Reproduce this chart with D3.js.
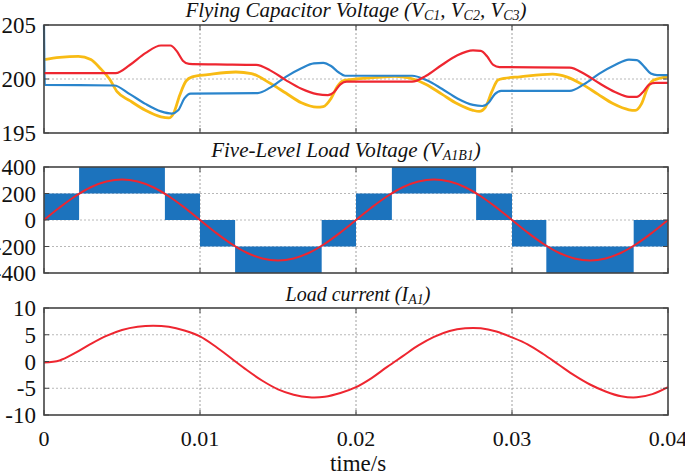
<!DOCTYPE html>
<html><head><meta charset="utf-8">
<script src="https://cdn.jsdelivr.net/npm/d3@7"></script>
<style>
body{margin:0;background:#fff;}
svg{display:block;}
text{font-family:"Liberation Serif","Tinos","Times New Roman","DejaVu Serif",serif;}
</style></head>
<body><svg id="c" width="685" height="473"></svg>
<script>
// ---------- data (time in ms) ----------
const xTicks = [0, 0.01, 0.02, 0.03, 0.04];
const xTickLabels = ["0", "0.01", "0.02", "0.03", "0.04"];

// Flying capacitor voltages
const vc1T = [0,0.05,4.5,5.5,6.5,7.5,8.2,8.6,9.0,9.4,13.7,14.5,15.5,16.5,17.3,17.9,18.4,18.9,19.3,23.6,24.5,25.5,26.5,27.5,28.1,28.5,28.9,29.3,33.7,34.6,35.6,36.6,37.5,38.0,38.5,38.9,39.3,40];
const vc1V = [205,199.45,199.4,198.6,197.7,197.0,196.8,197.1,198.2,198.65,198.7,199.2,200.2,201.0,201.45,201.5,201.2,200.6,200.3,200.3,199.9,199.1,198.2,197.6,197.5,197.8,198.6,198.9,198.9,199.5,200.5,201.3,201.8,201.75,201.1,200.5,200.35,200.35];

const vc2T = [0,4.6,5.5,6.5,7.5,8.1,8.5,8.9,9.3,11,13.6,14.5,15.5,16.5,17.5,18.2,18.6,19.0,19.4,23.6,24.5,25.5,26.5,27.5,28.0,28.4,28.8,29.2,33.7,34.6,35.6,36.6,37.5,38.0,38.4,38.8,39.2,40];
const vc2V = [200.55,200.55,201.3,202.4,203.1,203.1,202.6,201.7,201.4,201.35,201.3,200.8,199.9,199.1,198.6,198.5,198.8,199.5,199.75,199.75,200.3,201.3,202.2,202.65,202.6,202.1,201.3,201.1,201.05,200.5,199.6,198.8,198.35,198.35,198.8,199.5,199.65,199.65];

const vc3T = [0,1,2.2,3.0,3.6,4.2,4.7,5.5,6.5,7.5,8.0,8.3,8.7,9.1,9.5,10.5,12.3,13.3,14.5,15.5,16.5,17.5,17.9,18.4,18.8,19.2,20,21.3,22.5,23.4,24.5,25.5,26.5,27.5,27.9,28.3,28.7,29.1,29.5,30.5,32.6,33.5,34.5,35.5,36.5,37.5,37.9,38.3,38.7,39.1,40];
const vc3V = [201.8,202.0,202.1,201.8,201.0,200.0,198.8,198.0,197.1,196.5,196.4,196.8,198.5,199.8,200.2,200.4,200.65,200.5,199.6,198.7,197.8,197.4,197.45,198.2,199.3,199.85,200.0,200.15,200.25,200.1,199.5,198.6,197.7,197.1,197.0,197.4,198.8,199.9,200.05,200.2,200.45,200.2,199.5,198.6,197.7,197.15,197.1,197.7,199.2,199.9,200.2];

// Five-level load voltage: PWM bands (start ms, end ms, low level, high level)
const pwmStart = [0, 2.25, 7.75, 10, 12.25, 17.8, 20, 22.3, 27.7, 30, 32.2, 37.8];
const pwmEnd   = [2.25, 7.75, 10, 12.25, 17.8, 20, 22.3, 27.7, 30, 32.2, 37.8, 40];
const pwmLow   = [0, 200, 0, -200, -400, -200, 0, 200, 0, -200, -400, -200];
const pwmHigh  = [200, 400, 200, 0, -200, 0, 200, 400, 200, 0, -200, 0];

// Fundamental of load voltage (sampled every 1 ms)
const vFundT = d3.range(0, 41);
const vFundV = [0,94,179,247,290,305,290,247,179,94,0,-94,-179,-247,-290,-305,-290,-247,-179,-94,
                0,94,179,247,290,305,290,247,179,94,0,-94,-179,-247,-290,-305,-290,-247,-179,-94,0];

// Load current (sampled every 1 ms)
const iT = d3.range(0, 41);
const iV = [-0.2,0.2,1.6,3.3,4.8,5.9,6.5,6.7,6.5,5.8,4.7,2.8,0.6,-1.6,-3.6,-5.2,-6.2,-6.7,-6.6,-5.9,
            -4.8,-3.1,-1.0,1.0,3.0,4.6,5.7,6.2,6.2,5.6,4.5,3.2,1.4,-0.6,-2.6,-4.3,-5.6,-6.5,-6.7,-6.1,-4.8];

const topTicks = [195, 200, 205];
const midTicks = [-400, -200, 0, 200, 400];
const botTicks = [-10, -5, 0, 5, 10];

// ---------- drawing ----------
const svg = d3.select("#c");
const X0 = 44, X1 = 668;
const x = d3.scaleLinear().domain([0, 0.04]).range([X0, X1]);

function panel(top, bottom, domain, ticks, fmt) {
  const y = d3.scaleLinear().domain(domain).range([bottom, top]);
  const g = svg.append("g");
  g.selectAll(".gy").data(ticks.filter(t => t !== domain[0] && t !== domain[1])).join("line")
    .attr("x1", X0).attr("x2", X1).attr("y1", d => y(d)).attr("y2", d => y(d))
    .attr("stroke", "#b8b8b8").attr("stroke-width", 1).attr("stroke-dasharray", "2,2");
  g.selectAll(".gx").data(xTicks.slice(1, -1)).join("line")
    .attr("x1", d => x(d)).attr("x2", d => x(d)).attr("y1", top).attr("y2", bottom)
    .attr("stroke", "#a0a0a0").attr("stroke-width", 1).attr("stroke-dasharray", "2,2");
  g.selectAll(".yl").data(ticks).join("text")
    .attr("x", 36).attr("y", d => y(d)).attr("dy", "0.35em")
    .attr("text-anchor", "end").attr("font-size", 23)
    .attr("fill", "#111").text(fmt);
  return {y, g, top, bottom};
}

function frame(p) {
  const {g, top, bottom} = p;
  g.append("rect").attr("x", X0).attr("y", top).attr("width", X1 - X0).attr("height", bottom - top)
    .attr("fill", "none").attr("stroke", "#444").attr("stroke-width", 1.6);
  xTicks.forEach(d => {
    g.append("line").attr("x1", x(d)).attr("x2", x(d)).attr("y1", bottom).attr("y2", bottom - 5).attr("stroke", "#444");
    g.append("line").attr("x1", x(d)).attr("x2", x(d)).attr("y1", top).attr("y2", top + 5).attr("stroke", "#444");
  });
}

function yTickMarks(p, ticks) {
  ticks.forEach(t => {
    p.g.append("line").attr("x1", X0).attr("x2", X0 + 5).attr("y1", p.y(t)).attr("y2", p.y(t)).attr("stroke", "#444");
    p.g.append("line").attr("x1", X1 - 5).attr("x2", X1).attr("y1", p.y(t)).attr("y2", p.y(t)).attr("stroke", "#444");
  });
}

function title(yb, cx, parts, fs) {
  const t = svg.append("text").attr("x", cx).attr("y", yb).attr("text-anchor", "middle")
    .attr("font-style", "italic").attr("font-size", fs).attr("fill", "#111");
  parts.forEach(([s, sub]) => {
    const ts = t.append("tspan").text(s);
    if (sub) ts.attr("font-size", Math.round(fs * 0.68)).attr("baseline-shift", "-3");
  });
}

// Top panel
const pTop = panel(25, 133, [195, 205], topTicks, d => d);
const lineTop = d3.line().x(d => x(d[0] / 1000)).y(d => pTop.y(d[1])).curve(d3.curveMonotoneX);
const series = [
  {t: vc3T, v: vc3V, c: "#f8bb14", w: 2.8},
  {t: vc1T, v: vc1V, c: "#2a85cc", w: 2.2},
  {t: vc2T, v: vc2V, c: "#ee2630", w: 2.2}
];
series.forEach(s => {
  pTop.g.append("path").attr("d", lineTop(s.t.map((t, i) => [t, s.v[i]])))
    .attr("fill", "none").attr("stroke", s.c).attr("stroke-width", s.w);
});
yTickMarks(pTop, topTicks);
frame(pTop);

// Middle panel
const pMid = panel(167, 273, [-400, 400], midTicks, d => d);
pMid.g.selectAll(".pwm").data(pwmStart).join("rect")
  .attr("x", (d, i) => x(d / 1000))
  .attr("width", (d, i) => x(pwmEnd[i] / 1000) - x(d / 1000))
  .attr("y", (d, i) => pMid.y(pwmHigh[i]))
  .attr("height", (d, i) => pMid.y(pwmLow[i]) - pMid.y(pwmHigh[i]))
  .attr("fill", "#1c73bd");
const lineMid = d3.line().x(d => x(d[0] / 1000)).y(d => pMid.y(d[1])).curve(d3.curveCatmullRom);
pMid.g.append("path").attr("d", lineMid(vFundT.map((t, i) => [t, vFundV[i]])))
  .attr("fill", "none").attr("stroke", "#ee2630").attr("stroke-width", 2);
yTickMarks(pMid, midTicks);
frame(pMid);

// Bottom panel
const pBot = panel(308, 415, [-10, 10], botTicks, d => d);
const lineBot = d3.line().x(d => x(d[0] / 1000)).y(d => pBot.y(d[1])).curve(d3.curveCatmullRom);
pBot.g.append("path").attr("d", lineBot(iT.map((t, i) => [t, iV[i]])))
  .attr("fill", "none").attr("stroke", "#ee2630").attr("stroke-width", 2);
yTickMarks(pBot, botTicks);
frame(pBot);

// x tick labels
svg.selectAll(".xl").data(xTicks).join("text")
  .attr("x", d => x(d)).attr("y", 446).attr("text-anchor", "middle")
  .attr("font-size", 22).attr("fill", "#111")
  .text((d, i) => xTickLabels[i]);
svg.append("text").attr("x", 358).attr("y", 471).attr("text-anchor", "middle")
  .attr("font-size", 23).attr("fill", "#111").text("time/s");

// titles
title(17, 356, [["Flying Capacitor Voltage (V"], ["C1", 1], [", V"], ["C2", 1], [", V"], ["C3", 1], [")"]], 21);
title(157, 346, [["Five-Level Load Voltage (V"], ["A1B1", 1], [")"]], 21);
title(301, 358, [["Load current (I"], ["A1", 1], [")"]], 20);
</script></body></html>
